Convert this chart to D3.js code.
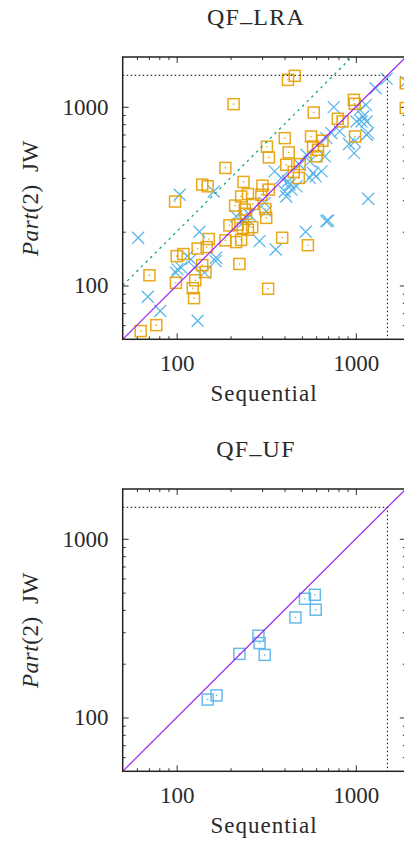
<!DOCTYPE html>
<html>
<head>
<meta charset="utf-8">
<script src="https://cdn.jsdelivr.net/npm/d3@7"></script>
<style>
  body { margin: 0; background: #fff; }
  svg { display: block; }
  text { font-family: "Liberation Serif", "Times New Roman", serif; fill: #2a2a2a; }
</style>
</head>
<body>
<div id="chart"></div>
<script>
// axis setup
const axisDomain = [50, 1900];
const majorTicks = [100, 1000];
const minorTicks = [60, 70, 80, 90, 200, 300, 400, 500, 600, 700, 800, 900];
const timeout = 1500;

// QF_LRA, orange squares (sequential time, JW time)
const lraSqSeq = [418, 456, 208, 975, 985, 582, 793, 843, 990, 562, 651, 401, 319, 327, 422, 577, 615, 603, 409, 486,
  450, 480, 301, 327, 187, 139, 149, 236, 98, 229, 250, 297, 212, 266, 240, 244, 312, 316, 197, 219,
  234, 250, 264, 215, 229, 187, 388, 540, 151, 147, 131, 109, 100, 224, 139, 145, 70.5, 99, 127, 123,
  125, 324, 77, 63, 1900, 1900];
const lraSqJw = [1415, 1490, 1035, 1094, 1040, 929, 857, 828, 682, 682, 646, 668, 598, 521, 556, 600, 575, 528, 474, 478,
  432, 400, 362, 344, 455, 367, 359, 380, 295, 315, 325, 322, 280, 286, 266, 252, 268, 239, 217, 219,
  210, 205, 212, 175, 180, 179, 185, 168, 182, 164, 161, 150, 146, 132, 130, 119, 114, 103.5, 107, 96.6,
  85, 96, 60, 55.6, 1356, 985];

// QF_LRA, blue crosses
const lraXSeq = [1486, 1289, 1138, 753, 1009, 1148, 1172, 813, 731, 917, 978, 685, 671, 530, 553, 577, 643, 486, 352, 427,
  401, 437, 553, 409, 1172, 685, 700, 525, 357, 290, 316, 310, 61, 134, 104, 115, 120, 106, 99, 101,
  166, 165, 143, 69, 81, 131, 161, 239, 255, 215, 244, 126, 384, 418, 466, 597, 987, 1099, 1075, 1148,
  1053, 1900];
const lraXJw = [1433, 1271, 1026, 996, 828, 828, 713, 728, 713, 619, 551, 668, 528, 539, 495, 426, 435, 474, 435, 367,
  336, 344, 400, 315, 306, 229, 231, 200, 159, 177, 260, 290, 185, 200, 322, 146, 140, 126, 118, 123,
  143, 137, 118, 86.5, 72, 63.5, 336, 229, 249, 244, 239, 126, 400, 383, 359, 408, 640, 883, 828, 698,
  962, 1380];

// QF_UF, blue squares
const ufSeq = [149, 167, 224, 286, 290, 310, 460, 520, 590, 597];
const ufJw = [126, 133, 227, 287, 261, 224, 363, 462, 486, 401];

const W = 404, H = 848;
const left = 122.7, right = 405.8, plotH = 282.3;

const svg = d3.select("#chart").append("svg")
    .attr("width", W)
    .attr("height", H);

function squares(g, x, y, xs, ys, color) {
    const pts = g.append("g").selectAll("g").data(xs.map((v, i) => [v, ys[i]])).enter().append("g")
        .attr("transform", d => "translate(" + x(d[0]) + "," + y(d[1]) + ")");
    pts.append("rect")
        .attr("x", -5.5).attr("y", -5.5)
        .attr("width", 11).attr("height", 11)
        .attr("fill", "none")
        .attr("stroke", color)
        .attr("stroke-opacity", 0.9)
        .attr("stroke-width", 1.5);
    pts.append("circle")
        .attr("r", 0.8)
        .attr("fill", color);
}

function crosses(g, x, y, xs, ys, color) {
    g.append("g").selectAll("path").data(xs.map((v, i) => [v, ys[i]])).enter().append("path")
        .attr("transform", d => "translate(" + x(d[0]) + "," + y(d[1]) + ")")
        .attr("d", "M-6,-6L6,6M-6,6L6,-6")
        .attr("fill", "none")
        .attr("stroke", color)
        .attr("stroke-width", 1.2);
}

function drawPanel(top, title, drawPoints, twice) {
    const bottom = top + plotH;
    const x = d3.scaleLog().domain(axisDomain).range([left, right]);
    const y = d3.scaleLog().domain(axisDomain).range([bottom, top]);
    const g = svg.append("g");

    // ticks, all pointing inward; labels only on bottom and left
    const axes = [
        {make: () => d3.axisBottom(x), at: "translate(0," + bottom + ")", pad: 15.4, labels: true},
        {make: () => d3.axisTop(x), at: "translate(0," + top + ")", pad: 3, labels: false},
        {make: () => d3.axisLeft(y), at: "translate(" + left + ",0)", pad: 14.2, labels: true},
        {make: () => d3.axisRight(y), at: "translate(" + right + ",0)", pad: 3, labels: false}
    ];
    axes.forEach(function (a) {
        const ga = g.append("g").attr("transform", a.at)
            .call(a.make().tickValues(majorTicks).tickSize(-6).tickPadding(a.pad)
                .tickFormat(a.labels ? d3.format("d") : ""));
        ga.select(".domain").remove();
        ga.attr("font-family", null);
        ga.selectAll("line").attr("stroke", "#333").attr("stroke-width", 1);
        ga.selectAll("text").attr("font-size", 23).attr("fill", "#2a2a2a");
        const gm = g.append("g").attr("transform", a.at)
            .call(a.make().tickValues(minorTicks).tickSize(-3).tickFormat(""));
        gm.select(".domain").remove();
        gm.selectAll("line").attr("stroke", "#333").attr("stroke-width", 1);
    });

    drawPoints(g, x, y);

    // reference lines: y = 2x, y = x, timeout box
    const line = d3.line().x(d => x(d[0])).y(d => y(d[1]));
    if (twice) {
        g.append("path")
            .attr("d", line([[50, 100], [950, 1900]]))
            .attr("fill", "none")
            .attr("stroke", "#009e73")
            .attr("stroke-width", 1.2)
            .attr("stroke-dasharray", "2.5,4");
    }
    g.append("path")
        .attr("d", line([[50, 50], [1900, 1900]]))
        .attr("fill", "none")
        .attr("stroke", "#a020f0")
        .attr("stroke-width", 1.2);
    g.append("path")
        .attr("d", line([[50, timeout], [timeout, timeout], [timeout, 50]]))
        .attr("fill", "none")
        .attr("stroke", "#111")
        .attr("stroke-width", 1)
        .attr("stroke-dasharray", "1.5,2.5");

    // frame
    g.append("rect")
        .attr("x", left).attr("y", top)
        .attr("width", right - left).attr("height", plotH)
        .attr("fill", "none")
        .attr("stroke", "#222")
        .attr("stroke-width", 1.5);

    // title, the underscore sits on the baseline like LaTeX \_
    const t = g.append("text")
        .attr("x", 256).attr("y", top - 32)
        .attr("text-anchor", "middle")
        .attr("font-size", 24)
        .attr("letter-spacing", 1.2);
    const parts = title.split("_");
    t.append("tspan").text(parts[0]);
    t.append("tspan").attr("dy", -4).text("_");
    t.append("tspan").attr("dy", 4).text(parts[1]);

    // axis labels
    g.append("text")
        .attr("x", 264).attr("y", bottom + 62)
        .attr("text-anchor", "middle")
        .attr("font-size", 23)
        .attr("letter-spacing", 1)
        .text("Sequential");
    const yl = g.append("text")
        .attr("transform", "translate(38," + (top + plotH / 2) + ") rotate(-90)")
        .attr("text-anchor", "middle")
        .attr("font-size", 23)
        .attr("letter-spacing", 0.6);
    yl.append("tspan").attr("font-style", "italic").text("Part");
    yl.append("tspan").text("(2)\u2002JW");
}

drawPanel(57, "QF_LRA", function (g, x, y) {
    crosses(g, x, y, lraXSeq, lraXJw, "#56b4e9");
    squares(g, x, y, lraSqSeq, lraSqJw, "#e69f00");
}, true);

drawPanel(489, "QF_UF", function (g, x, y) {
    squares(g, x, y, ufSeq, ufJw, "#56b4e9");
}, false);
</script>
</body>
</html>
